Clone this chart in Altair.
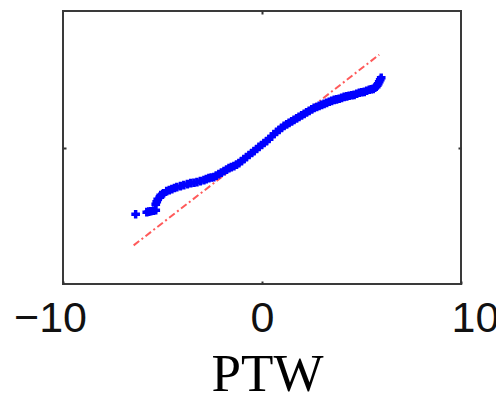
import altair as alt
import pandas as pd

# Quantile points
qx = [-6.35, -5.79, -5.69, -5.59, -5.45, -5.34, -5.34, -5.29, -5.24, -5.14, -5.09, -4.99, -4.94,
      -4.79, -4.66, -4.53, -4.40, -4.28, -4.10, -3.93, -3.75, -3.58, -3.42, -3.27, -3.10, -2.92,
      -2.80, -2.67, -2.55, -2.42, -2.30, -2.17, -2.04, -1.91, -1.78, -1.66, -1.54, -1.41, -1.28,
      -1.16, -1.03, -0.91, -0.78, -0.65, -0.52, -0.40, -0.27, -0.15, -0.02, 0.10, 0.23, 0.35,
      0.48, 0.60, 0.73, 0.86, 0.98, 1.11, 1.24, 1.36, 1.49, 1.61, 1.74, 1.86, 1.99, 2.12, 2.24,
      2.37, 2.50, 2.62, 2.75, 2.87, 3.00, 3.12, 3.25, 3.38, 3.50, 3.63, 3.75, 3.88, 4.00, 4.13,
      4.26, 4.38, 4.51, 4.63, 4.76, 4.89, 5.01, 5.14, 5.26, 5.39, 5.49, 5.59, 5.67, 5.74, 5.79,
      5.84, 5.89, 5.94, 5.99]
qy = [-4.89, -4.74, -4.70, -4.67, -4.62, -4.60, -4.16, -3.98, -3.79, -3.64, -3.49, -3.42, -3.35,
      -3.20, -3.12, -3.05, -2.97, -2.90, -2.83, -2.76, -2.68, -2.61, -2.58, -2.54, -2.46, -2.39,
      -2.32, -2.24, -2.20, -2.17, -2.06, -1.95, -1.84, -1.73, -1.62, -1.51, -1.44, -1.36, -1.25,
      -1.14, -1.00, -0.85, -0.70, -0.55, -0.40, -0.26, -0.11, 0.04, 0.18, 0.33, 0.47, 0.62,
      0.80, 0.99, 1.14, 1.29, 1.44, 1.58, 1.69, 1.80, 1.91, 2.02, 2.13, 2.24, 2.35, 2.46, 2.57,
      2.68, 2.79, 2.90, 2.97, 3.05, 3.12, 3.20, 3.27, 3.35, 3.42, 3.49, 3.53, 3.57, 3.64, 3.71,
      3.75, 3.79, 3.83, 3.86, 3.94, 4.01, 4.05, 4.08, 4.16, 4.23, 4.27, 4.30, 4.38, 4.45, 4.56,
      4.67, 4.82, 4.96, 5.11]

# Reference line end points
line_x = [-6.45, 5.89]
line_y = [-7.17, 6.80]

x_ticks = [-10, 0, 10]
x_domain = [-10, 10]
y_domain = [-10, 10]

pts = pd.DataFrame({"x": qx, "y": qy})
ref = pd.DataFrame({"x": line_x, "y": line_y})

xs = alt.Scale(domain=x_domain, nice=False, zero=False)
ys = alt.Scale(domain=y_domain, nice=False, zero=False)

points = alt.Chart(pts).mark_point(shape="cross", filled=True, size=75, color="#0000ff", opacity=1).encode(
    x=alt.X("x:Q", scale=xs, axis=alt.Axis(
        orient="bottom", values=x_ticks, title="PTW", grid=False, domain=False,
        tickSize=3, offset=-3, tickColor="#333", tickWidth=2,
        labelFont="Liberation Sans", labelFontSize=43, labelColor="#111",
        labelBaseline="alphabetic", labelPadding=47, labelFlush=False,
        labelOffset={"condition": [{"test": "datum.value < 0", "value": -13},
                                   {"test": "datum.value > 0", "value": 14}],
                     "value": 0},
        titleFont="Liberation Serif", titleFontSize=53, titleFontWeight="normal",
        titleColor="#000", titleBaseline="alphabetic", titleY=109, titleX=204)),
    y=alt.Y("y:Q", scale=ys, axis=alt.Axis(
        orient="left", values=[0], labels=False, title=None, grid=False, domain=False,
        tickSize=3, offset=-3, tickColor="#333", tickWidth=2)),
)

line = alt.Chart(ref).mark_line(color="#ff5a5a", strokeWidth=2, strokeDash=[7, 3, 2, 3]).encode(
    x=alt.X("x:Q", scale=xs, axis=alt.Axis(
        orient="top", values=[0], labels=False, title=None, grid=False, domain=False,
        tickSize=3, offset=-3, tickColor="#333", tickWidth=2)),
    y=alt.Y("y:Q", scale=ys, axis=alt.Axis(
        orient="right", values=[0], labels=False, title=None, grid=False, domain=False,
        tickSize=3, offset=-3, tickColor="#333", tickWidth=2)),
)

chart = alt.layer(line, points).resolve_axis(x="independent", y="independent").properties(
    width=398, height=273,
    autosize=alt.AutoSizeParams(type="none"),
    padding={"left": 63, "top": 11, "right": 35, "bottom": 113},
    background="white",
).configure_view(stroke="#3a3a3a", strokeWidth=2)

chart.save("out.html", embed_options={"renderer": "svg", "actions": False})
